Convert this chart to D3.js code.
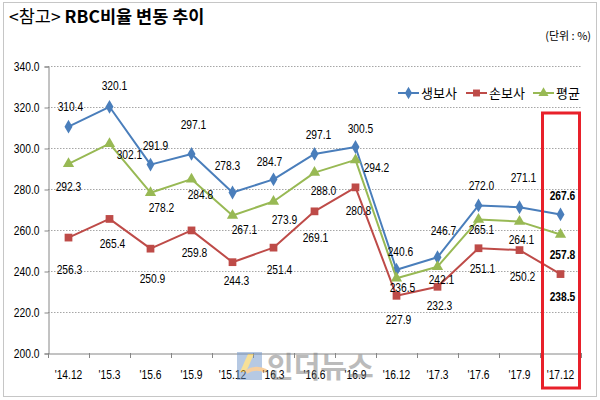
<!DOCTYPE html>
<html><head><meta charset="utf-8">
<script src="https://cdn.jsdelivr.net/npm/d3@7"></script>
<style>
html,body{margin:0;padding:0;background:#fff;}
svg{display:block;}
</style></head>
<body>
<svg id="chart" width="600" height="400"></svg>
<script>
const categories = ["'14.12","'15.3","'15.6","'15.9","'15.12","'16.3","'16.6","'16.9","'16.12","'17.3","'17.6","'17.9","'17.12"];
const lifeValues = [310.4,320.1,291.9,297.1,278.3,284.7,297.1,300.5,240.6,246.7,272.0,271.1,267.6];
const nonLifeValues = [256.3,265.4,250.9,259.8,244.3,251.4,269.1,280.8,227.9,232.3,251.1,250.2,238.5];
const avgValues = [292.3,302.1,278.2,284.8,267.1,273.9,288.0,294.2,236.5,242.1,265.1,264.1,257.8];
const yTicks = [200,220,240,260,280,300,320,340];
const seriesNames = ["생보사","손보사","평균"];

// label placement offsets (relative to point), layout only
const lifeLabelOff = [[2,-20],[5,-22],[5,-19],[2,-30],[-5,-27],[-4,-18],[4,-20],[5,-19],[4,-18],[6,-27],[3,-20],[4,-30],[2,-19]];
const nonLifeLabelOff = [[1,32],[3,24],[2,30],[3,22],[4,18],[6,22],[1,26],[3,23],[2,23],[2,18],[4,20],[3,26],[2,22]];
const avgLabelOff = [[0,22],[20,11],[11,15],[9,15],[12,14],[11,18],[9,18],[21,7],[6,9],[4,13],[3,10],[2,18],[2,20]];

const svg = d3.select("#chart");
const numFont = "'Liberation Sans','Arial',sans-serif";
const korFont = "'Noto Sans CJK KR','Noto Sans',sans-serif";
const narrow = sel => sel.each(function(){
  const w = this.getComputedTextLength();
  this.setAttribute("textLength", (w*0.76).toFixed(2));
  this.setAttribute("lengthAdjust","spacingAndGlyphs");
});
const NUM_SIZE = 13.5;

// outer dotted frame
svg.append("rect").attr("x",3.5).attr("y",2.5).attr("width",593).attr("height",394)
  .attr("fill","none").attr("stroke","#8c8c8c").attr("stroke-dasharray","1,1");

// title
const title = svg.append("text").attr("x",9).attr("y",23).attr("font-family",korFont).attr("font-size",17.5).attr("fill","#000");
title.append("tspan").text("<참고> ");
title.append("tspan").attr("font-weight","bold").text("RBC비율 변동 추이");

svg.append("text").attr("x",591).attr("y",40).attr("text-anchor","end")
  .attr("font-family",korFont).attr("font-size",11).attr("fill","#000").text("(단위 : %)");

const x = d3.scaleBand().domain(categories).range([48, 581]);
const y = d3.scaleLinear().domain([200,340]).range([353,66]);
const cx = d => x(d) + x.bandwidth()/2;

// gridlines
svg.append("g").selectAll("line").data(yTicks.filter(t=>t>200)).join("line")
  .attr("x1",48).attr("x2",581).attr("y1",d=>y(d)+0.5).attr("y2",d=>y(d)+0.5)
  .attr("stroke","#a6a6a6").attr("stroke-width",1).attr("stroke-dasharray","1.5,1.5");

// y axis
const yAxis = d3.axisLeft(y).tickValues(yTicks).tickFormat(d3.format(".1f")).tickSize(4).tickPadding(5);
const gy = svg.append("g").attr("transform","translate(48.5,0.5)").call(yAxis);
gy.select(".domain").attr("stroke","#868686");
gy.selectAll(".tick line").attr("stroke","#868686");
gy.selectAll("text").attr("font-family",numFont).attr("font-size",NUM_SIZE).attr("fill","#000").call(narrow);

// x axis
const xAxis = d3.axisBottom(x).tickSize(0).tickPadding(16);
const gx = svg.append("g").attr("transform","translate(0,353.5)").call(xAxis);
gx.select(".domain").attr("stroke","#868686");
gx.selectAll("text").attr("font-family",numFont).attr("font-size",NUM_SIZE).attr("fill","#000").call(narrow);
// category boundary ticks
svg.append("g").selectAll("line").data(categories.concat(["__end"])).join("line")
  .attr("x1",(d,i)=>48.5+i*x.step()).attr("x2",(d,i)=>48.5+i*x.step())
  .attr("y1",353).attr("y2",358).attr("stroke","#868686");

// watermark
const wm = svg.append("g").attr("opacity",0.5);
wm.append("rect").attr("x",237).attr("y",352).attr("width",25).attr("height",28).attr("fill","#6f95c9");
wm.append("path").attr("d","M248,354 L254,354 L246,372 L240,372 Z").attr("fill","#f2c230");
wm.append("path").attr("d","M246,372 Q256,366 266,371").attr("stroke","#f0a040").attr("stroke-width",4).attr("fill","none");
wm.append("text").attr("x",267).attr("y",378).attr("font-family",korFont).attr("font-size",29)
  .attr("font-weight","bold").attr("fill","#7a7a7a").text("인더뉴스");

// series
const series = [
  {name:seriesNames[0], values:lifeValues, color:"#4a7ebb", marker:"diamond", off:lifeLabelOff},
  {name:seriesNames[1], values:nonLifeValues, color:"#be4b48", marker:"square", off:nonLifeLabelOff},
  {name:seriesNames[2], values:avgValues, color:"#98b954", marker:"triangle", off:avgLabelOff}
];
const symType = {diamond:d3.symbolDiamond, square:d3.symbolSquare, triangle:d3.symbolTriangle};
const symSize = {diamond:55, square:60, triangle:55};

const line = d3.line().x((d,i)=>cx(categories[i])).y(d=>y(d));
series.forEach(s=>{
  svg.append("path").datum(s.values).attr("d",line).attr("fill","none")
    .attr("stroke",s.color).attr("stroke-width",2).attr("stroke-linejoin","round");
  svg.append("g").selectAll("path").data(s.values).join("path")
    .attr("transform",(d,i)=>`translate(${cx(categories[i])},${y(d)})`)
    .attr("d",d3.symbol().type(symType[s.marker]).size(symSize[s.marker]))
    .attr("fill",s.color);
});
series.forEach(s=>{
  svg.append("g").selectAll("text").data(s.values).join("text")
    .attr("x",(d,i)=>cx(categories[i])+s.off[i][0])
    .attr("y",(d,i)=>y(d)+s.off[i][1])
    .attr("dy","0.35em").attr("text-anchor","middle")
    .attr("font-family",numFont).attr("font-size",NUM_SIZE).attr("fill","#000")
    .attr("font-weight",(d,i)=>i===categories.length-1?"bold":"normal")
    .text(d=>d.toFixed(1)).call(narrow);
});

// highlight box for last category
const lastX = cx(categories[categories.length-1]);
svg.append("rect").attr("x",lastX-18).attr("y",113).attr("width",37).attr("height",275)
  .attr("fill","none").attr("stroke","#e8202a").attr("stroke-width",3);

// legend
const legX = [398,466,533];
const lg = svg.append("g");
series.forEach((s,i)=>{
  const g = lg.append("g").attr("transform",`translate(${legX[i]},93)`);
  g.append("line").attr("x1",0).attr("x2",21).attr("stroke",s.color).attr("stroke-width",2);
  g.append("path").attr("transform","translate(10.5,0)")
    .attr("d",d3.symbol().type(symType[s.marker]).size(symSize[s.marker]*0.8)).attr("fill",s.color);
  g.append("text").attr("x",23).attr("dy","0.35em").attr("font-family",korFont)
    .attr("font-size",13).attr("fill","#000").text(s.name);
});
</script>
</body></html>
